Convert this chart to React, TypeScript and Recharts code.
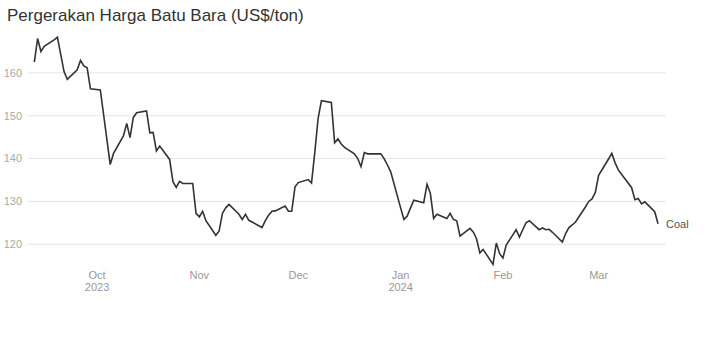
import React from 'react';
import { LineChart, Line, XAxis, YAxis, CartesianGrid } from 'recharts';

// trading days, Sep 2023 - Mar 2024
const dates = [
  '2023-09-12', '2023-09-13', '2023-09-14', '2023-09-15', '2023-09-18', '2023-09-19', '2023-09-20',
  '2023-09-21', '2023-09-22', '2023-09-25', '2023-09-26', '2023-09-27', '2023-09-28', '2023-09-29',
  '2023-10-02', '2023-10-03', '2023-10-04', '2023-10-05', '2023-10-06', '2023-10-09', '2023-10-10',
  '2023-10-11', '2023-10-12', '2023-10-13', '2023-10-16', '2023-10-17', '2023-10-18', '2023-10-19',
  '2023-10-20', '2023-10-23', '2023-10-24', '2023-10-25', '2023-10-26', '2023-10-27', '2023-10-30',
  '2023-10-31',
  '2023-11-01', '2023-11-02', '2023-11-03', '2023-11-06', '2023-11-07', '2023-11-08', '2023-11-09',
  '2023-11-10', '2023-11-13', '2023-11-14', '2023-11-15', '2023-11-16', '2023-11-17', '2023-11-20',
  '2023-11-21', '2023-11-22', '2023-11-23', '2023-11-24', '2023-11-27', '2023-11-28', '2023-11-29',
  '2023-11-30',
  '2023-12-01', '2023-12-04', '2023-12-05', '2023-12-06', '2023-12-07', '2023-12-08', '2023-12-11',
  '2023-12-12', '2023-12-13', '2023-12-14', '2023-12-15', '2023-12-18', '2023-12-19', '2023-12-20',
  '2023-12-21', '2023-12-22', '2023-12-25', '2023-12-26', '2023-12-27', '2023-12-28', '2023-12-29',
  '2024-01-01', '2024-01-02', '2024-01-03', '2024-01-04', '2024-01-05', '2024-01-08', '2024-01-09',
  '2024-01-10', '2024-01-11', '2024-01-12', '2024-01-15', '2024-01-16', '2024-01-17', '2024-01-18',
  '2024-01-19', '2024-01-22', '2024-01-23', '2024-01-24', '2024-01-25', '2024-01-26', '2024-01-29',
  '2024-01-30', '2024-01-31',
  '2024-02-01', '2024-02-02', '2024-02-05', '2024-02-06', '2024-02-07', '2024-02-08', '2024-02-09',
  '2024-02-12', '2024-02-13', '2024-02-14', '2024-02-15', '2024-02-16', '2024-02-19', '2024-02-20',
  '2024-02-21', '2024-02-22', '2024-02-23', '2024-02-26', '2024-02-27', '2024-02-28', '2024-02-29',
  '2024-03-01', '2024-03-04', '2024-03-05', '2024-03-06', '2024-03-07', '2024-03-08', '2024-03-11',
  '2024-03-12', '2024-03-13', '2024-03-14', '2024-03-15', '2024-03-18', '2024-03-19',
];

// coal price, US$/ton
const coal = [
  162.5, 168.0, 165.0, 166.2, 167.7, 168.3, 164.3, 160.3, 158.5, 160.7, 162.9, 161.6, 161.2, 156.3,
  156.0, 150.2, 144.4, 138.6, 141.2, 145.3, 148.2, 144.9, 149.6, 150.7, 151.1, 146.0, 146.1, 141.8,
  142.9, 139.8, 134.6, 133.3, 134.7, 134.2, 134.2, 127.2,
  126.4, 127.7, 125.5, 122.1, 123.1, 127.2, 128.5, 129.3, 127.0, 125.8, 127.0, 125.6, 125.2, 123.9,
  125.5, 126.8, 127.7, 127.8, 128.9, 127.7, 127.7, 133.4,
  134.4, 135.1, 134.3, 141.5, 149.4, 153.5, 153.1, 143.7, 144.6, 143.4, 142.6, 141.1, 140.0, 138.1,
  141.4, 141.1, 141.1, 141.1, 140.0, 138.5, 136.9,
  128.5, 125.8, 126.6, 128.5, 130.3, 129.7, 134.0, 131.9, 126.0, 127.0, 126.0, 127.2, 125.8, 125.5,
  121.9, 123.7, 122.9, 121.3, 118.0, 118.8, 115.3, 120.3, 117.8,
  116.8, 119.8, 123.4, 121.7, 123.4, 125.0, 125.5, 123.4, 123.8, 123.4, 123.5, 122.8, 120.5, 122.5,
  123.9, 124.5, 125.2, 128.7, 130.0, 130.6, 132.1,
  136.1, 139.9, 141.2, 139.0, 137.3, 136.3, 133.2, 130.4, 130.7, 129.4, 129.9, 127.6, 124.8,
];

const tickDates = ['2023-10-01', '2023-11-01', '2023-12-01', '2024-01-01', '2024-02-01', '2024-03-01'];
const tickMonths = ['Oct', 'Nov', 'Dec', 'Jan', 'Feb', 'Mar'];
const tickYears = ['2023', '', '', '2024', '', ''];
const yTicks = [120, 130, 140, 150, 160];

const seriesName = 'Coal';
const title = 'Pergerakan Harga Batu Bara (US$/ton)';

const toTime = (s: string) => new Date(s + 'T00:00:00Z').getTime();

const data = dates.map((d, i) => ({ t: toTime(d), value: coal[i] }));
const xTicks = tickDates.map(toTime);
const xDomain = [toTime('2023-09-10') + 2 * 3600000, toTime('2024-03-21') + 10 * 3600000];

const FONT = '"Liberation Sans", Arial, Helvetica, sans-serif';

const MonthTick = (props: any) => {
  const { x, payload } = props;
  const i = xTicks.indexOf(payload.value);
  return (
    <text x={x} y={279} textAnchor="middle" fill="#999" fontSize={11} fontFamily={FONT}>
      <tspan x={x}>{tickMonths[i]}</tspan>
      {tickYears[i] ? (
        <tspan x={x} dy={12}>
          {tickYears[i]}
        </tspan>
      ) : null}
    </text>
  );
};

const EndLabel = (props: any) => {
  const { x, y, index } = props;
  if (index !== data.length - 1) return null;
  return (
    <text x={x + 8} y={y + 4} fill="#555" fontSize={11} fontFamily={FONT}>
      {seriesName}
    </text>
  );
};

export default function App() {
  return (
    <div style={{ position: 'absolute', left: 0, top: 0, width: 704, height: 359, background: '#fff', fontFamily: FONT }}>
      <div style={{ position: 'absolute', left: 7, top: 6, fontSize: 17, color: '#333', whiteSpace: 'nowrap' }}>
        {title}
      </div>
      <LineChart width={704} height={359} data={data} margin={{ top: 30, right: 38, bottom: 59, left: 0 }}>
        <CartesianGrid vertical={false} stroke="#e6e6e6" horizontalValues={yTicks} />
        <XAxis
          dataKey="t"
          type="number"
          scale="time"
          domain={xDomain}
          ticks={xTicks}
          interval={0}
          tick={<MonthTick />}
          axisLine={false}
          tickLine={false}
          height={30}
          allowDataOverflow
        />
        <YAxis
          type="number"
          domain={[114, 170]}
          ticks={yTicks}
          interval={0}
          width={28}
          axisLine={false}
          tickLine={false}
          tickSize={0}
          tickMargin={6}
          tick={{ fill: '#aaa', fontSize: 11, fontFamily: FONT }}
        />
        <Line
          type="linear"
          dataKey="value"
          stroke="#333"
          strokeWidth={1.6}
          dot={false}
          isAnimationActive={false}
          label={<EndLabel />}
        />
      </LineChart>
    </div>
  );
}
